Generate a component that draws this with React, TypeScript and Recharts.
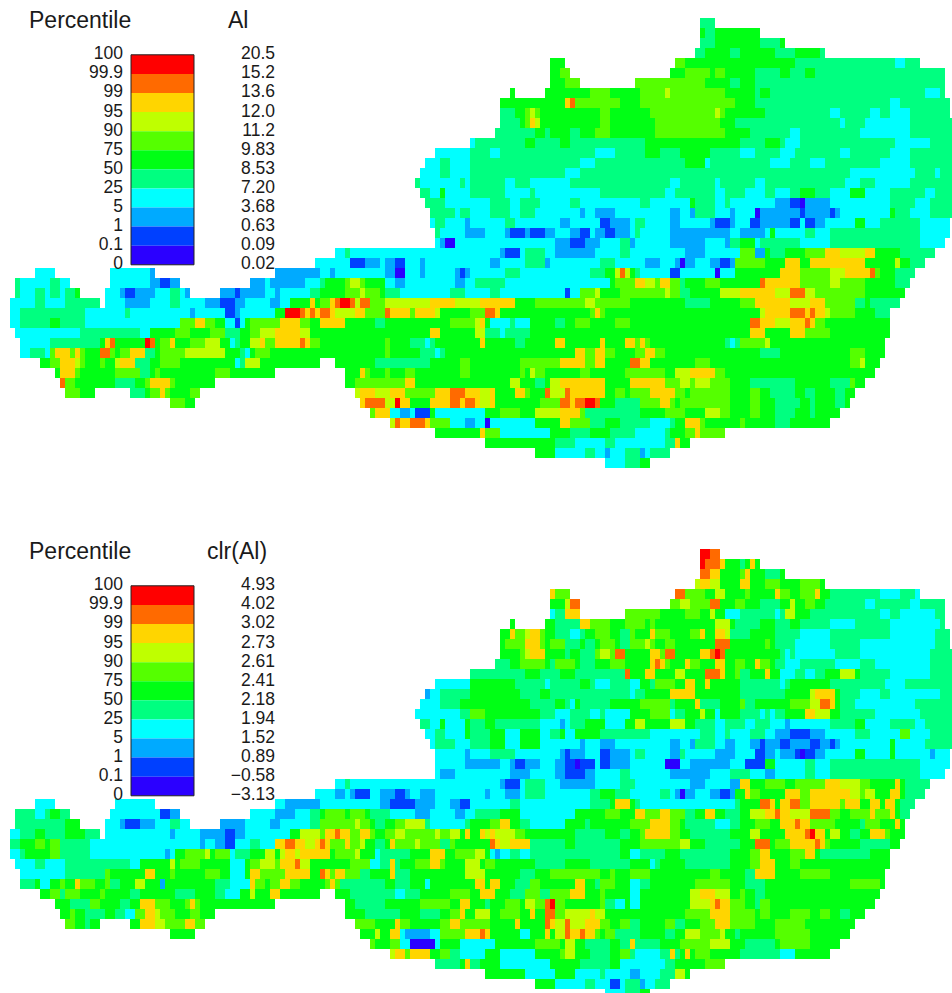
import { ReferenceArea, Scatter, ScatterChart, XAxis, YAxis } from "recharts";

// Grid: one column is 5px wide, one row is 10px high. Each row string is
// "<first column> <class><end column> ..."; "_" leaves a gap.
const bandColors = [
  "#FF0000", "#FF6A00", "#FFD500", "#BFFF00", "#55FF00", "#00FF15",
  "#00FF80", "#00FFFF", "#00AAFF", "#0040FF", "#2B00FF",
];
const classLetters = ["k", "j", "i", "h", "g", "f", "e", "d", "c", "b", "a"];

const percentileLabels = ["100", "99.9", "99", "95", "90", "75", "50", "25", "5", "1", "0.1", "0"];
const alLabels = ["20.5", "15.2", "13.6", "12.0", "11.2", "9.83", "8.53", "7.20", "3.68", "0.63", "0.09", "0.02"];
const clrLabels = ["4.93", "4.02", "3.02", "2.73", "2.61", "2.41", "2.18", "1.94", "1.52", "0.89", "−0.58", "−3.13"];

const alRows = [
  "140 e143",
  "140 f141 e143 f152",
  "140 e143 f152 e156 f157",
  "139 e141 f146 e148 f155 e159 f164 e165",
  "110 f113 _135 g137 f159 e179 d181 e184",
  "110 f112 g114 _134 f137 g142 f143 g145 f151 e156 f158 e161 f163 e189",
  "110 f113 g116 _127 g141 f146 e148 f151 e189",
  "102 f103 _109 f118 g122 f128 g133 h134 g145 f151 e152 f154 e185 d188 e189",
  "100 f113 i114 j115 g124 f128 g147 f151 e178 d180 e190",
  "100 e103 f105 g106 h107 g108 f120 g122 f130 g143 h144 g145 f153 e166 d168 e174 d176 e178 d182 e190",
  "100 e104 f105 g106 i107 h108 f120 g122 f131 g144 f147 e168 d169 e173 d182 e191",
  "99 e107 f109 e110 f114 e116 f119 g122 f131 g145 f150 e158 d160 e172 d182 e191",
  "94 d95 e105 f107 e112 f114 e129 f148 e153 f156 e157 d160 e179 d186 e191",
  "87 d94 e98 d100 e119 d123 e129 f132 e136 f142 e148 d151 e156 d159 e168 d170 e178 d182 e191",
  "85 d88 e90 d94 e116 d119 e137 f141 d142 e154 d158 e162 d165 e176 d182 e191",
  "84 d88 e90 d94 e113 d116 e170 d183 e187 d188 e191",
  "83 e84 d92 e93 d94 e101 d103 e106 d114 e134 d136 e143 d144 e151 d153 e169 d172 e175 d182 e191",
  "84 e86 d88 f89 d94 e101 d106 e107 d120 e133 d135 e143 d145 e149 d153 e155 d158 e160 f163 e166 d170 f173 d178 e185 d187 e191",
  "85 e89 d98 e102 d104 e108 d114 e116 d128 e130 d138 f139 e143 d145 e146 d155 c158 b160 a161 c166 d178 e183 d186 e191",
  "86 e91 d92 e94 d98 e102 d104 e107 d116 c117 d119 c123 d134 c136 d138 c139 e143 d146 c147 d151 a152 c160 b161 c166 b167 c168 d178 f179 e182 d186 e191",
  "86 d87 e89 d93 c94 d101 e103 d112 c114 d120 b122 c126 d127 e129 d134 c136 d142 c143 b146 c147 d150 b152 c158 b160 d161 b163 c165 d171 f173 d176 e184 d190",
  "87 e88 d93 c97 d101 c102 b105 c106 b109 c111 d114 c116 b118 d119 c121 b123 c126 d127 e128 d134 c146 d148 c153 d154 f155 d161 e163 d166 e184 d190",
  "87 d88 c89 a91 d111 c114 b117 c120 d124 e126 c127 d134 c141 d145 c146 e148 f151 d152 e160 d166 e184 d189",
  "67 d69 e70 d100 c101 b104 d105 e109 d111 c119 d124 e126 d137 c141 d148 g151 c153 f154 e157 f161 g165 i168 h173 i175 f180 e187",
  "63 d70 b73 c76 d77 c79 b81 d84 c85 d98 c100 d105 e109 c110 d120 e123 d129 c132 d135 c136 a137 c139 d142 c144 b146 c147 g153 f157 i160 f162 i173 f179 h180 f182 e185",
  "7 d11 _22 d30 c31 _55 c64 d66 c67 d77 c79 a81 d84 c85 d91 c92 b93 c94 d101 e104 d118 e121 f123 h124 j125 h126 f127 e128 d134 b136 d143 a144 d147 f156 i160 g166 h169 i174 j175 g176 f179 e183",
  "3 e4 d10 e12 d14 _22 d30 c32 b34 c36 _50 c53 d54 c61 d64 e65 f69 g70 h72 g73 f77 d79 c81 d91 c93 d95 e101 d122 f123 g127 i129 h131 g132 i134 g136 e137 f141 g144 f152 j153 i156 i160 g166 h168 g173 f179 e182",
  "3 e4 d7 e9 d10 e12 d13 e15 f16 _21 d24 c25 b27 c31 d34 e36 d37 c38 _44 c47 b48 c53 d55 c56 d62 e64 f69 g72 h73 g76 f77 e80 d90 e93 d98 e100 d113 b114 d116 g119 h120 f124 g128 g133 h134 g136 e138 f144 h148 i155 h158 j161 h163 g173 f181",
  "2 d7 e9 d13 e20 _21 d25 c30 d34 e36 d41 c44 b47 c49 d54 c56 d58 f62 i63 f64 g66 i67 j68 k70 j71 h72 j74 g77 h86 i91 h96 i103 f107 g117 h119 g126 f137 e142 f148 g151 i158 h162 i165 g171 e173 f174 e180",
  "2 d4 e17 d25 e26 d38 c39 d45 b47 c48 d55 f57 k60 j61 i62 j63 i64 j66 i67 h71 i73 g77 j78 i82 g83 i87 h88 f94 g97 j99 i100 f118 g119 i120 g121 f152 h153 i158 j161 i162 j163 i165 h166 g171 f175 e178",
  "2 d4 e10 f12 e17 d36 g39 i41 g43 f45 d47 b48 d49 f50 g56 i60 g62 f64 i69 f75 e77 f90 g95 h96 i97 f98 d102 e103 d106 f111 e113 f115 g118 f123 g126 f150 j152 i155 h158 i161 j162 i163 g165 f178",
  "3 d16 e28 d30 f35 g38 f42 g45 e48 f50 g52 h55 i60 h62 f86 i88 f95 h97 e100 d101 e106 f150 i153 f158 i161 g166 f178",
  "4 d10 e20 f21 i22 j23 f29 k30 j31 f32 g34 i35 f38 g41 h44 f46 d47 e48 f50 h52 i53 g55 i60 j61 i62 g64 f77 g78 f82 e85 d86 e87 f96 i97 f103 e105 f111 i113 f120 i121 f125 i127 g128 i129 g130 f145 e146 d147 e148 g153 h154 f177",
  "4 d6 e9 d10 g11 i14 g15 i16 g17 f20 j22 g23 f24 g26 i29 e31 f32 g37 h45 f48 e49 d50 f51 g54 f70 g70 f77 g78 f84 e87 d88 e89 f115 i117 g119 i121 g123 f127 g129 i131 g133 f152 e156 f170 g173 f177",
  "8 f10 g12 i15 h16 g17 f20 g21 f23 h24 i27 e30 f32 g36 f47 d48 e49 h52 f64 _67 f75 e86 f92 g94 f104 g112 i117 g119 i121 f126 j128 i130 f139 g142 f170 g172 h173 f176",
  "11 f12 i15 g16 f23 g28 e30 f31 g32 f43 g46 f55 _69 f72 i73 g74 f77 g78 f81 g83 f92 g94 f104 g105 f106 h107 g109 f116 g118 f125 g133 f135 h138 i143 g145 f175",
  "12 j13 g15 f23 e27 f29 g30 i34 g35 f43 _69 f71 g81 i83 f102 h104 f107 e109 f110 h112 i121 f126 i133 g136 h138 g139 h142 g146 f150 e159 f166 e170 g171 f173",
  "13 g16 f19 _26 e29 f30 g32 i33 g34 f38 g40 _71 h72 i75 h78 i81 g87 i90 j93 i96 h98 i99 f103 i105 g106 f109 j110 h113 j114 i121 f123 g125 f126 g130 i135 g137 f138 g146 f150 g152 f154 e159 f161 e163 f167 e169 f171",
  "34 g37 f39 _72 i73 j77 h79 k80 i82 f86 i90 j92 i93 j95 i96 h98 i99 f108 g112 j114 i115 j117 k119 j120 f123 e128 g132 i134 g135 f136 g146 f150 g152 f155 e160 f162 e163 f167 e169 f170",
  "74 g75 i78 d80 c82 d83 b86 f87 d97 f100 g104 f107 h112 i116 g117 e122 e128 f133 g137 f141 h144 g146 f150 g152 f155 e159 f162 e163 f168",
  "78 h79 j80 i82 j85 i86 g90 d93 c95 d97 a98 d107 f112 i114 g118 e121 f124 e130 d134 e135 f137 i140 g141 f148 g149 f155 e158 f166",
  "87 f96 i97 g100 d110 f114 e118 f122 e127 d133 e134 f137 g139 i140 g145",
  "97 f111 e115 d121 e123 d133 e135 i136 f138",
  "107 f111 d117 e119 d121 c122 d125 e128 c129 d130 e134",
  "121 d125 e128 f130",
];

const clrRows = [
  "140 k142 j144",
  "140 k141 j144 i145 f148 e149 f150 i151 f152",
  "140 j142 i144 f148 g149 i150 f153 e156 f157",
  "139 h140 i142 h144 f148 i150 f153 g156 f160 g164 f165",
  "110 i111 g114 _135 j137 g141 f143 h145 f149 g150 f155 i156 g158 f160 g163 i164 f166 e176 d180 e183 d184",
  "110 f113 h114 j116 _134 g136 h138 g142 j144 f147 g149 f152 e156 f158 h159 f161 g163 f165 e173 d175 e182 d184 e189",
  "110 d111 e113 i116 _125 g132 f137 g140 f142 h143 f145 d148 e155 d156 e157 h159 f162 e176 d178 e180 d187 e189",
  "102 f103 _109 f111 e116 i118 g122 f125 g129 f130 g131 f143 h146 f147 e152 f155 e158 f160 e166 d171 e178 d188 e189",
  "100 f102 i103 g105 h106 i108 g109 f111 e114 d116 e117 f119 g122 f124 e126 g127 f130 i131 g134 f138 g140 i141 f143 i145 h146 e150 f155 e160 d166 e178 d187 e190",
  "100 f101 g103 g105 i108 g109 f110 g113 e116 f117 e119 f120 g123 f124 e126 g129 h130 g131 f133 g135 f143 j146 f153 g154 f155 e159 d166 e172 d187 e190",
  "100 f104 g105 h106 i109 f113 e114 f116 e119 g120 h122 g123 j125 f130 i132 g133 j135 f140 i142 j143 k144 j145 f156 e157 d158 e159 d167 e172 d186 e191",
  "99 e102 f104 g109 f110 e111 g115 f116 e119 f122 g125 f130 i131 j132 i133 g134 f137 i138 g140 f143 i145 f147 g149 f151 i152 g154 f155 e157 d160 e167 d172 e175 d186 e191",
  "94 e105 f108 e112 f115 e125 j126 f129 i131 f135 h137 f141 j144 i145 f147 g148 e150 f153 i154 f156 d159 e161 d163 e165 f168 h171 f172 e178 d186 e191",
  "87 d94 f103 e109 d110 e116 f118 e119 d122 e126 d128 f130 e131 g135 f137 i139 f141 i142 f148 e156 d157 e158 f166 e177 d181 e191",
  "85 c86 d88 e94 f104 e108 f110 e126 d127 e129 f134 i139 f148 e157 f162 h163 i167 f168 e172 d176 e178 d188 e191",
  "84 d88 e92 f106 e111 f113 e114 d115 f116 e122 f128 g134 e135 f139 i140 e144 f148 g149 e151 f158 g162 h164 j166 i167 f168 e171 d183 e191",
  "83 d92 e94 g97 f108 e111 d114 e118 d120 e121 d126 f130 g134 d135 e137 f140 h141 f143 d144 f148 e152 d153 e154 d155 e157 f161 i163 h166 f168 e175 d184 e191",
  "84 e86 d88 f89 d93 f94 e97 f99 e108 d112 c113 d114 e117 f121 d125 f127 h129 f134 h137 f139 e143 d145 e149 d151 e154 d157 c158 d166 e171 f173 d178 e183 d185 e191",
  "85 d87 e89 d93 f94 e98 f101 d104 f108 d110 e112 f113 d115 f120 e130 d140 e143 d145 e146 d150 e153 d155 c158 b162 c165 d171 e174 d180 g182 d186 e191",
  "86 d87 e91 d94 e98 f101 d104 f108 d116 c117 d120 c123 d134 c136 d138 c139 e143 d145 c147 d150 c152 b153 c156 b158 c162 b164 c166 b167 c168 d178 f179 d185 e191",
  "87 d93 c94 d98 e103 d112 c113 b114 c117 d120 b122 c126 d127 e129 d134 c136 e137 d143 c147 d151 b153 c155 d156 c159 b160 a161 b163 c165 d171 f173 d178 f179 d186 c187 d190",
  "87 d93 c100 d102 c103 b105 c108 d111 c113 b115 a116 b119 d120 b122 c126 d133 a136 d138 c146 d149 b153 f155 d161 e163 d166 e184 d190",
  "87 d88 c91 d102 c106 d111 c113 b117 c119 d124 e126 d134 c142 d146 e150 d153 c155 d161 e163 d166 e184 d189",
  "67 d69 e70 d100 c101 b104 d105 e109 d112 c119 d124 e127 d138 c141 d146 c148 i150 f153 g157 f159 g165 i168 h172 g174 f179 i180 f181 e186",
  "63 d67 c69 d70 c71 b74 d76 c79 b81 c82 d84 c87 d97 c98 d101 c104 d105 e109 d118 e120 f123 e126 d132 e134 d135 c136 a137 c139 d142 c144 b146 c147 f149 i150 g152 f157 i160 g162 i170 h172 g173 h175 f178 i180 f181 e185",
  "7 d11 _23 d31 _55 d57 c64 d76 c78 b83 c87 d90 c92 b94 d102 e104 d118 e122 f123 i126 f127 e128 d147 e148 f152 j154 i155 f156 i158 j160 g162 i168 g169 i172 f174 i176 f177 i179 f180 e183",
  "3 e7 d9 e10 f12 e14 _22 d32 b34 c36 _50 d55 c59 d62 e64 f65 g69 f70 g73 f74 e78 d83 c86 d91 c93 d95 e100 f104 d115 f121 g124 f127 i129 g132 i134 g137 e139 f141 i143 f145 e148 f150 h153 i155 j156 i158 h162 j166 g168 f170 g174 i175 g178 i179 f180 e182",
  "3 e13 f16 _21 d24 c25 b28 c31 d34 e36 d38 _44 c49 d54 c56 d62 e64 g71 h72 g74 f75 e77 f79 g81 h85 e86 d93 e94 f98 g100 i102 f104 e106 d113 f117 e118 f126 g130 i134 g136 f137 e143 d146 e148 f151 g154 f156 i159 j160 i162 g167 f172 e173 g176 f179 i180 f181",
  "2 d4 e7 f9 e13 f17 e20 _21 d34 c35 d40 c45 b47 c49 d58 f60 h64 g65 i67 j68 i70 g72 i74 g75 f77 g79 h81 g87 h88 g90 h92 f93 i94 f96 i97 h98 i99 h103 g105 f115 e121 f124 e126 f128 g129 i134 g136 f138 e146 f150 h152 f157 i161 j162 k163 i165 f166 h168 f170 e172 f174 i177 g178 f181",
  "2 e4 f7 g9 f10 g12 e18 d40 c41 d43 c45 b47 d50 e52 d55 i57 j59 i61 h63 i64 j65 i66 g69 i70 g72 h73 f75 e77 f78 i79 g83 h84 g88 e90 g91 f98 j99 i100 h102 i106 e113 f115 e124 f126 f128 g136 h138 f141 e148 f151 j154 f155 g158 i163 j164 i165 g166 f172 e178 f180",
  "2 d4 e5 f10 g12 e18 d33 c34 d35 f37 g41 h42 f43 g46 d47 e50 f53 h55 f56 h57 i59 h60 i64 i66 f67 g71 h72 f75 d76 e82 f86 i89 f91 g95 h97 f98 d99 c100 d102 e104 d106 e124 f126 d128 e133 f136 e146 f150 g152 i154 f158 g161 i163 f164 e174 f178",
  "3 d7 e9 d13 e26 d28 f34 h35 f36 g40 f46 d49 f50 g52 h55 g56 i59 j60 h62 f70 g74 d76 e78 i79 e80 f83 g86 i88 g89 f93 h96 f97 g99 f107 e113 f118 e126 f130 d131 e132 f137 e146 f150 g152 i155 f158 g160 f178",
  "4 d13 e21 g22 f29 i31 f34 g35 f41 g44 f46 d49 f50 i52 g57 i62 f64 j65 i66 g67 i69 g72 e74 f78 i79 e82 f93 h97 f104 e107 f110 g120 f122 g123 f126 g130 f142 g144 f149 e151 i155 f160 g166 f177",
  "4 e7 f8 d10 f12 g13 f15 i16 g19 f21 g22 e24 f27 h29 f32 c33 f43 e46 d50 i51 g53 f54 g56 i58 g60 f65 g66 i67 g68 e77 f79 e82 f85 d86 f95 i97 f98 i100 f103 e106 g108 f115 i117 f119 e120 g123 f126 d128 e130 f139 g146 f149 e153 f170 g176 f177",
  "8 f10 g12 e13 g16 f20 g21 f26 e28 f35 e39 f43 e45 d48 f50 h51 f54 i56 f64 _67 f70 e79 d81 e84 f90 g94 f96 i99 f102 e105 g108 e110 g114 i117 f120 g121 f126 d128 f138 h140 i143 h146 f148 g149 f151 e153 f176",
  "11 f14 e18 g20 f24 e26 f28 i31 g34 f37 g38 i39 g40 f55 _69 f71 e77 f84 g90 f92 i94 f97 e98 f101 g104 f105 h107 g109 j110 k111 g113 f120 g121 e123 d125 f126 d128 f138 h142 i143 j144 i146 g149 f151 e152 g154 f175",
  "12 f14 g15 f17 e21 f23 e25 d27 g29 i31 h32 g35 f38 g40 f43 _69 f73 e80 f84 e88 f90 g92 i93 f95 h98 f100 g104 f106 i107 f109 j111 g113 h118 i119 h121 f137 g142 i146 g151 f152 g154 f158 g162 f164 g166 f168 e170 f173",
  "13 g15 f17 e18 f20 _26 f28 i31 h33 g37 i39 g41 _71 g75 f79 i80 g82 f88 g90 i92 g98 f103 i104 f109 j110 i111 h113 j114 h117 i120 g122 f124 g126 e128 f133 g135 e137 f140 g143 i146 g151 f155 g161 f171",
  "34 f39 _72 f75 h76 f78 i80 d81 c86 d88 g93 i96 j97 i98 f104 d106 f109 i110 f111 h113 j114 i116 j117 i119 g120 f121 g123 e128 f133 e135 f137 h140 g144 h145 f147 e148 f155 g162 f170",
  "74 g75 f78 g80 d82 a87 d88 f92 d99 f107 g112 f113 h115 f117 e122 f124 e126 i127 e132 f136 g142 h146 f149 e155 f156 g162 f168",
  "78 h79 i81 g82 i86 f88 g90 e92 d97 f100 d107 f112 g113 h115 f118 e122 f124 g126 e127 d132 e134 i135 e136 f137 i138 f139 g142 f148 e152 e156 d159 f166",
  "87 e92 f93 i94 e96 f100 d110 f116 e122 f124 d128 d133 e135 f141 g145",
  "97 f105 d111 f115 d120 e121 d126 c128 d132 e135 h137 f138",
  "107 f111 d117 e119 d122 b124 d125 e128 c129 d131 e134",
  "121 d125 e128 f130",
];

const CHART_W = 952;
const CHART_H = 470;
const COL_W = 5;
const ROW_H = 10;
// chart-space positions of the colour key, in grid units
const KEY_LEFT = 26.2;
const KEY_RIGHT = 38.8;
const KEY_TOP = 3.68;
const KEY_BAND = 1.909;

interface Run {
  col: number;
  row: number;
  span: number;
}

function parseRuns(rows: string[], level: number): Run[] {
  const out: Run[] = [];
  const letter = classLetters[level];
  rows.forEach((text, row) => {
    const tokens = text.split(" ");
    let cursor = Number(tokens[0]);
    tokens.slice(1).forEach((tok) => {
      const end = Number(tok.slice(1));
      if (end <= cursor) return;
      if (tok[0] === letter) out.push({ col: cursor, row, span: end - cursor });
      cursor = end;
    });
  });
  return out;
}

function RunRect(props: any) {
  return (
    <rect
      x={props.cx}
      y={props.cy}
      width={props.payload.span * COL_W}
      height={ROW_H}
      fill={props.fill}
      shapeRendering="crispEdges"
    />
  );
}

function KeyText(props: any) {
  const { text, anchor, size } = props.payload;
  return (
    <text
      x={props.cx}
      y={props.cy}
      textAnchor={anchor}
      fontSize={size}
      fontFamily="Liberation Sans, Arial, sans-serif"
      fill="#1a1a1a"
    >
      {text}
    </text>
  );
}

function MapPanel({
  rows,
  values,
  title,
  titleCol,
}: {
  rows: string[];
  values: string[];
  title: string;
  titleCol: number;
}) {
  const tickTexts = [
    ...percentileLabels.map((text, i) => ({
      col: 24.6, row: 4.13 + i * KEY_BAND, text, anchor: "end", size: 17.5,
    })),
    ...values.map((text, i) => ({
      col: 55, row: 4.13 + i * KEY_BAND, text, anchor: "end", size: 17.5,
    })),
    { col: 5.8, row: 1, text: "Percentile", anchor: "start", size: 23 },
    { col: titleCol, row: 1, text: title, anchor: "start", size: 23 },
  ];
  return (
    <ScatterChart
      width={CHART_W}
      height={CHART_H}
      margin={{ top: 0, right: 0, bottom: 0, left: 0 }}
    >
      <XAxis type="number" dataKey="col" domain={[0, 190.4]} allowDataOverflow hide />
      <YAxis type="number" dataKey="row" domain={[-1.8, 45.2]} allowDataOverflow reversed hide />
      {bandColors.map((color, level) => (
        <Scatter
          key={color}
          data={parseRuns(rows, level)}
          fill={color}
          shape={RunRect}
          isAnimationActive={false}
        />
      ))}
      {bandColors.map((color, i) => (
        <ReferenceArea
          key={color}
          x1={KEY_LEFT}
          x2={KEY_RIGHT}
          y1={KEY_TOP + i * KEY_BAND}
          y2={KEY_TOP + (i + 1) * KEY_BAND}
          fill={color}
          fillOpacity={1}
          stroke="none"
        />
      ))}
      <ReferenceArea
        x1={KEY_LEFT}
        x2={KEY_RIGHT}
        y1={KEY_TOP}
        y2={KEY_TOP + 11 * KEY_BAND}
        fillOpacity={0}
        stroke="#222"
        strokeWidth={1}
      />
      <Scatter data={tickTexts} shape={KeyText} isAnimationActive={false} />
    </ScatterChart>
  );
}

export default function App() {
  return (
    <div
      style={{
        position: "absolute",
        left: 0,
        top: 0,
        width: 952,
        height: 993,
        overflow: "hidden",
        background: "#fff",
      }}
    >
      <div style={{ position: "absolute", left: 0, top: 0 }}>
        <MapPanel rows={alRows} values={alLabels} title="Al" titleCol={45.6} />
      </div>
      <div style={{ position: "absolute", left: 0, top: 531 }}>
        <MapPanel rows={clrRows} values={clrLabels} title="clr(Al)" titleCol={41.4} />
      </div>
    </div>
  );
}
